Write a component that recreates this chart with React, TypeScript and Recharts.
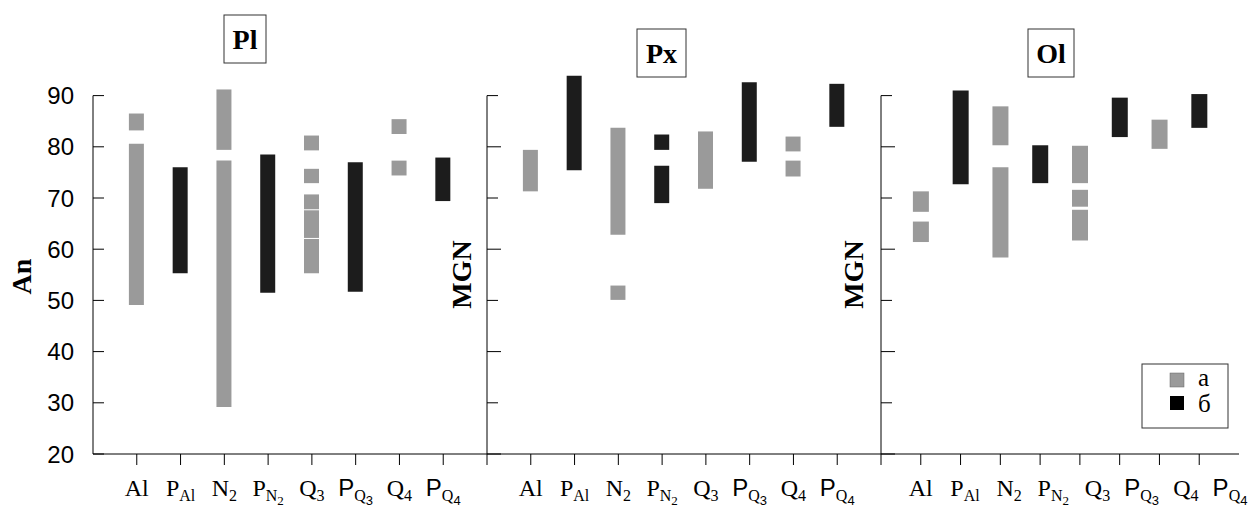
import { Bar, BarChart, Cell, ReferenceLine, XAxis, YAxis } from 'recharts';

type Range = [number, number];

// categories along each panel's x axis (same order in every panel)
const CATEGORIES = ['Al', 'PAl', 'N2', 'PN2', 'Q3', 'PQ3', 'Q4', 'PQ4'];
// а = grey, б = black
const KIND = ['a', 'b', 'a', 'b', 'a', 'b', 'a', 'b'];
const Y_TICKS = [20, 30, 40, 50, 60, 70, 80, 90];

// An ranges (low, high) per category, several segments where the bar is split
const PL_RANGES: Range[][] = [
  [[49.1, 80.6], [83.2, 86.5]],
  [[55.3, 76.0]],
  [[29.2, 77.3], [79.4, 91.2]],
  [[51.5, 78.5]],
  [[55.3, 62.0], [62.2, 67.6], [67.8, 70.7], [72.9, 75.7], [79.3, 82.2]],
  [[51.7, 77.0]],
  [[74.4, 77.3], [82.5, 85.4]],
  [[69.4, 77.9]]
];

const PX_RANGES: Range[][] = [
  [[71.3, 79.4]],
  [[75.4, 93.9]],
  [[50.1, 52.9], [62.8, 83.7]],
  [[69.0, 76.3], [79.4, 82.4]],
  [[71.8, 83.0]],
  [[77.1, 92.6]],
  [[74.2, 77.3], [79.1, 82.0]],
  [[83.9, 92.3]]
];

const OL_RANGES: Range[][] = [
  [[61.4, 65.4], [67.3, 71.3]],
  [[72.7, 91.0]],
  [[58.4, 76.0], [80.3, 87.9]],
  [[72.9, 80.3]],
  [[61.7, 67.7], [68.3, 71.6], [72.9, 80.2]],
  [[81.9, 89.6]],
  [[79.6, 85.3]],
  [[83.7, 90.3]]
];

// label pieces: text, subscript level, sans-serif flag
type Part = { t: string; lvl: number; sans?: boolean };
const LABEL_PARTS: Record<string, Part[]> = {
  Al: [{ t: 'Al', lvl: 0 }],
  PAl: [{ t: 'P', lvl: 0 }, { t: 'Al', lvl: 1 }],
  N2: [{ t: 'N', lvl: 0 }, { t: '2', lvl: 1 }],
  PN2: [{ t: 'P', lvl: 0 }, { t: 'N', lvl: 1 }, { t: '2', lvl: 2 }],
  Q3: [{ t: 'Q', lvl: 0 }, { t: '3', lvl: 1 }],
  PQ3: [{ t: 'P', lvl: 0, sans: true }, { t: 'Q', lvl: 1 }, { t: '3', lvl: 2, sans: true }],
  Q4: [{ t: 'Q', lvl: 0 }, { t: '4', lvl: 1 }],
  PQ4: [{ t: 'P', lvl: 0, sans: true }, { t: 'Q', lvl: 1 }, { t: '4', lvl: 2, sans: true }]
};

const SEG_KEYS = ['s0', 's1', 's2', 's3', 's4'];
const GREY = '#9a9a9a';
const BLACK = '#1c1c1c';
const SERIF = "'Liberation Serif', 'Times New Roman', serif";
const SANS = "'Liberation Sans', Arial, sans-serif";

const LVL_SIZE = [24, 16, 13];
const LVL_DROP = [0, 5, 9];

function CatTick(props: any) {
  const { x, y, payload, step } = props;
  const v = payload.value as number;
  if (v < 1) return null;
  const parts = LABEL_PARTS[CATEGORIES[v - 1]];
  let prev = 0;
  return (
    <text x={x + step * (v - 1)} y={y + 29} textAnchor="middle" fill="#000">
      {parts.map((p, i) => {
        const dy = LVL_DROP[p.lvl] - prev;
        prev = LVL_DROP[p.lvl];
        return (
          <tspan key={i} dy={dy} fontSize={LVL_SIZE[p.lvl]} fontFamily={p.sans ? SANS : SERIF}>
            {p.t}
          </tspan>
        );
      })}
    </text>
  );
}

function ValTick(props: any) {
  const { x, y, payload, showLabel, index } = props;
  const len = showLabel ? 11 : index % 2 === 1 ? 11 : 14;
  return (
    <g>
      <line x1={x} x2={x + len} y1={y} y2={y} stroke="#000" />
      {showLabel && (
        <text x={x - 19} y={y} dy="0.36em" textAnchor="end" fontSize={24} fontFamily={SANS} fill="#000">
          {payload.value}
        </text>
      )}
    </g>
  );
}

type PanelProps = {
  ranges: Range[][];
  left: number;
  width: number;
  yAxisWidth: number;
  right: number;
  firstTick: number;
  showLabels: boolean;
  barSize: number;
  labelStep: number;
};

function Panel({ ranges, left, width, yAxisWidth, right, firstTick, showLabels, barSize, labelStep }: PanelProps) {
  const rows = ranges.map((segs, i) => {
    const row: Record<string, any> = { x: i + 1 };
    SEG_KEYS.forEach((k, j) => {
      row[k] = segs[j] ?? null;
    });
    return row;
  });
  const xTicks = [0, 1, 2, 3, 4, 5, 6, 7, 8].filter((t) => t >= firstTick);

  return (
    <div style={{ position: 'absolute', left, top: 0 }}>
      <BarChart
        width={width}
        height={511}
        data={rows}
        barSize={barSize}
        barGap={-barSize}
        margin={{ top: 70, right, bottom: 0, left: 0 }}
      >
        <XAxis
          type="number"
          dataKey="x"
          domain={[0, 9]}
          ticks={xTicks}
          interval={0}
          height={57}
          tickSize={11}
          tickMargin={2}
          stroke="#000"
          tick={<CatTick step={labelStep} />}
        />
        <YAxis
          type="number"
          domain={[20, 95]}
          ticks={Y_TICKS}
          interval={0}
          width={yAxisWidth}
          axisLine={false}
          tickLine={false}
          tickSize={0}
          tickMargin={0}
          tick={<ValTick showLabel={showLabels} />}
        />
        <ReferenceLine segment={[{ x: 0, y: 20 }, { x: 0, y: 90 }]} stroke="#000" />
        {SEG_KEYS.map((k) => (
          <Bar key={k} dataKey={k} isAnimationActive={false}>
            {rows.map((_, i) => (
              <Cell key={i} fill={KIND[i] === 'a' ? GREY : BLACK} />
            ))}
          </Bar>
        ))}
      </BarChart>
    </div>
  );
}

export default function App() {
  return (
    <div style={{ position: 'absolute', left: 0, top: 0, width: 1253, height: 511, background: '#fff' }}>
      <Panel ranges={PL_RANGES} left={0} width={500} yAxisWidth={93} right={13} firstTick={1} showLabels barSize={15} labelStep={0} />
      <Panel ranges={PX_RANGES} left={470} width={420} yAxisWidth={17} right={9} firstTick={0} showLabels={false} barSize={15} labelStep={0} />
      <Panel ranges={OL_RANGES} left={864} width={389} yAxisWidth={17} right={14} firstTick={0} showLabels={false} barSize={16} labelStep={4.4} />

      <svg width={1253} height={511} style={{ position: 'absolute', left: 0, top: 0, pointerEvents: 'none' }}>
        <g fontFamily={SERIF} fontWeight="bold" fontSize={28} fill="#000">
          <rect x={224} y={15} width={42} height={48} fill="none" stroke="#333" />
          <text x={245} y={49} textAnchor="middle">Pl</text>
          <rect x={637} y={29} width={49} height={48} fill="none" stroke="#333" />
          <text x={661.5} y={63} textAnchor="middle">Px</text>
          <rect x={1028} y={29} width={46} height={48} fill="none" stroke="#333" />
          <text x={1051} y={63} textAnchor="middle">Ol</text>
          <text transform="translate(31,276.5) rotate(-90)" textAnchor="middle">An</text>
          <text transform="translate(471,274.5) rotate(-90)" textAnchor="middle">MGN</text>
          <text transform="translate(863,274.5) rotate(-90)" textAnchor="middle">MGN</text>
        </g>
        <g fill="#000">
          <rect x={1142} y={364} width={86} height={64} fill="#fff" stroke="#333" />
          <rect x={1170} y={373} width={14} height={14} fill={GREY} stroke="#666" strokeWidth={0.5} />
          <text x={1198} y={386} fontFamily={SERIF} fontSize={25}>а</text>
          <rect x={1170} y={396} width={14} height={14} fill="#000" />
          <text x={1198} y={412} fontFamily={SERIF} fontSize={25}>б</text>
        </g>
      </svg>
    </div>
  );
}
